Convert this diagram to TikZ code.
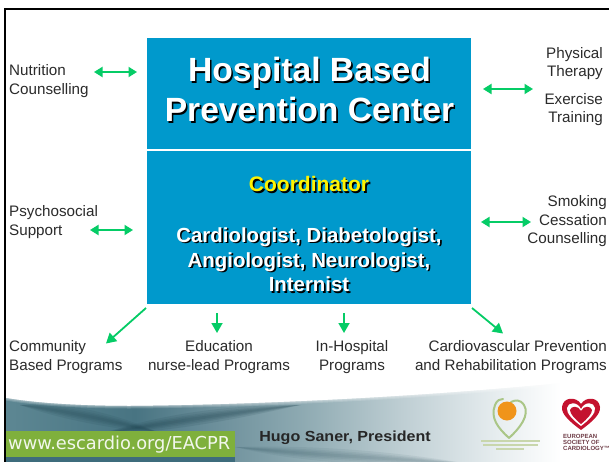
\documentclass[tikz,border=0pt]{standalone}
\usepackage{fontspec}
\setmainfont{Liberation Sans}
\newfontfamily\webfont{DejaVu Sans}
\usetikzlibrary{arrows.meta}
\definecolor{boxblue}{HTML}{0099CC}
\definecolor{arrowgreen}{HTML}{05CC66}
\definecolor{labelgray}{HTML}{2B2B2B}
\definecolor{webgreen}{HTML}{7FB03C}
\definecolor{escred}{HTML}{C4122F}
\definecolor{logoorange}{HTML}{F0941A}
\definecolor{fa}{RGB}{92,134,146}
\definecolor{fb}{RGB}{72,116,130}
\definecolor{fc}{RGB}{104,140,152}
\definecolor{fd}{RGB}{142,170,178}
\definecolor{fe}{RGB}{190,206,211}
\definecolor{ff}{RGB}{232,238,240}
\definecolor{streak}{RGB}{30,66,78}
\definecolor{footlow}{RGB}{62,108,124}
\definecolor{logogreen}{RGB}{170,198,135}
\definecolor{logotext}{RGB}{200,214,172}
\definecolor{esctext}{RGB}{110,60,70}
\pgfdeclarehorizontalshading{footshade}{100bp}{
 color(0bp)=(fa);
 color(25.5bp)=(fa);
 color(35.7bp)=(fb);
 color(41.4bp)=(fc);
 color(49.6bp)=(fd);
 color(57.8bp)=(fe);
 color(66bp)=(ff);
 color(71bp)=(white);
 color(100bp)=(white)}
\newcommand{\labfont}{\fontsize{15.2}{19}\selectfont\color{labelgray}}
% text with a hard black drop shadow
\newcommand{\shtext}[3]{\fontsize{#1}{#1}\selectfont\bfseries\leavevmode\rlap{\kern1.6pt\raisebox{-1.6pt}{\color{black}#3}}{\color{#2}#3}}
\tikzset{
 x=1pt,y=-1pt,
 bluebox/.style={fill=boxblue,draw=none},
 lableft/.style={anchor=base west,inner sep=0pt,font=\labfont},
 labright/.style={anchor=base east,inner sep=0pt,font=\labfont},
 labmid/.style={anchor=base,inner sep=0pt,font=\labfont},
 shline/.style={anchor=base,inner sep=0pt},
 both/.style={arrowgreen,line width=1.8pt,{Triangle[length=8.5pt,width=10pt]}-{Triangle[length=8.5pt,width=10pt]}},
 one/.style={arrowgreen,line width=1.8pt,-{Triangle[length=10pt,width=11pt]}},
}
\begin{document}
\begin{tikzpicture}
\useasboundingbox (0,0) rectangle (609,462);
\fill[white] (0,0) rectangle (609,462);
% footer
\path[shading=footshade] (6,398) .. controls (40,404) and (90,406) .. (130,406)
  .. controls (260,405) and (450,396) .. (609,378) -- (609,462) -- (6,462) -- cycle;
\begin{scope}
\clip (6,398) .. controls (40,404) and (90,406) .. (130,406)
  .. controls (260,405) and (450,396) .. (609,378) -- (609,462) -- (6,462) -- cycle;
\foreach \dd in {2,4,6,9}{
  \fill[streak,opacity=.11] (20,405) .. controls (60,410-\dd) and (110,420-\dd) .. (160,433)
     .. controls (110,420+\dd) and (60,410+\dd) .. (20,405) -- cycle;
  \fill[streak,opacity=.13] (100,434) .. controls (160,424-\dd) and (220,414-\dd) .. (300,405)
     .. controls (220,414+\dd) and (160,424+\dd) .. (100,434) -- cycle;
  \fill[streak,opacity=.07] (235,447) .. controls (300,454-\dd) and (380,458-\dd) .. (470,464)
     .. controls (380,458+\dd) and (300,454+\dd) .. (235,447) -- cycle;
}
% soft pale rim along the top of the band
\foreach \wd in {1.5,3,5}
  \draw[white,opacity=.16,line width=\wd pt] (6,398) .. controls (40,404) and (90,406) .. (130,406)
  .. controls (260,405) and (450,396) .. (609,378);
\end{scope}
\fill[footlow] (6,457) rectangle (235,462);
\fill[webgreen] (6,431) rectangle (235,457);
\node[anchor=base west,inner sep=0pt,text=white!90!webgreen,font=\webfont\fontsize{17.8}{18}\selectfont] (web) at (8,449.5) {www.escardio.org/EACPR};
\node[anchor=base,inner sep=0pt,xscale=1.1,transform shape,font=\fontsize{14.6}{16}\selectfont\bfseries,text=black!85] (hugo) at (345,441) {Hugo Saner, President};
% left logo
\draw[logogreen,line width=2pt,line cap=round] (509,438) .. controls (498,428) and (490,418) .. (495,405) .. controls (497,400) and (500,399) .. (503,399);
\draw[logogreen,line width=2pt,line cap=round] (509,438) .. controls (520,428) and (530,415) .. (524,405) .. controls (520,399) and (515,400) .. (511,402);
\fill[logoorange] (507,411) circle (9.5);
\foreach \yy/\xa/\xb in {441/481/540,445/483/538,449/496/524}
  \draw[logotext,line width=1.1pt] (\xa,\yy) -- (\xb,\yy);
% ESC logo
\fill[escred] (581,430) .. controls (570,422) and (561,414) .. (562,407) .. controls (563,397) and (576,396) .. (581,404) .. controls (586,396) and (599,397) .. (600,407) .. controls (601,414) and (592,422) .. (581,430) -- cycle;
\fill[white] (581,426) .. controls (573,420) and (566,413) .. (567,408) .. controls (568,402) and (577,401) .. (581,409) .. controls (585,401) and (594,402) .. (595,408) .. controls (596,413) and (589,420) .. (581,426) -- cycle;
\fill[escred] (581,424) .. controls (575,419) and (570,414) .. (570,410) .. controls (571,406) and (578,405) .. (581,411) .. controls (584,405) and (591,406) .. (592,410) .. controls (592,414) and (587,419) .. (581,424) -- cycle;
\foreach \nn/\yy/\ww in {e1/438/EUROPEAN,e2/444/SOCIETY OF,e3/450/CARDIOLOGY™}
  \node[anchor=base west,inner sep=0pt,font=\fontsize{6}{6}\selectfont\bfseries,text=esctext] (\nn) at (563,\yy) {\ww};
% frame
\fill[black] (3.5,8) rectangle (6,462);
\fill[black] (3.5,8) rectangle (609,10);
% boxes
\path[bluebox] (147,38) rectangle (471,149);
\path[bluebox] (147,151) rectangle (471,304);
\node[shline] (t1) at (309.5,82) {\shtext{33.6}{white}{Hospital Based}};
\node[shline] (t2) at (309.5,122) {\shtext{33.6}{white}{Prevention Center}};
\node[shline] (c0) at (309,192) {\shtext{21}{yellow}{Coordinator}};
\node[shline] (c1) at (309,242) {\shtext{20.4}{white}{Cardiologist, Diabetologist,}};
\node[shline] (c2) at (309,267) {\shtext{20.4}{white}{Angiologist, Neurologist,}};
\node[shline] (c3) at (309,291.5) {\shtext{20.4}{white}{Internist}};
% labels
\node[lableft] (nu1) at (9,76) {Nutrition};
\node[lableft] (nu2) at (9,95) {Counselling};
\node[lableft] (ps1) at (9,216) {Psychosocial};
\node[lableft] (ps2) at (9,235) {Support};
\node[labright] (ph1) at (603,59) {Physical};
\node[labright] (ph2) at (603,77) {Therapy};
\node[labright] (ex1) at (603,105) {Exercise};
\node[labright] (ex2) at (603,123) {Training};
\node[labright] (sm1) at (607,207) {Smoking};
\node[labright] (sm2) at (607,225) {Cessation};
\node[labright] (sm3) at (607,243.5) {Counselling};
\node[lableft] (co1) at (9,351.5) {Community};
\node[lableft] (co2) at (9,370) {Based Programs};
\node[labmid] (ed1) at (219,351.5) {Education};
\node[labmid] (ed2) at (219,370) {nurse-lead Programs};
\node[labmid] (ih1) at (352,351.5) {In-Hospital};
\node[labmid] (ih2) at (352,370) {Programs};
\node[labright] (cv1) at (607,351.5) {Cardiovascular Prevention};
\node[labright] (cv2) at (607,370) {and Rehabilitation Programs};
% connector ends
\coordinate (a1) at (94,72); \coordinate (a2) at (137,72);
\coordinate (b1) at (483,89); \coordinate (b2) at (533,89);
\coordinate (d1) at (90,230); \coordinate (d2) at (133,230);
\coordinate (e1a) at (481,222); \coordinate (e2a) at (531,222);
\coordinate (f1) at (146,308); \coordinate (f2) at (106,343.5);
\coordinate (g1) at (217,313); \coordinate (g2) at (217,333);
\coordinate (h1) at (344,313); \coordinate (h2) at (344,333);
\coordinate (i1) at (472,308); \coordinate (i2) at (503,333.5);
\draw[both] (a1) -- (a2);
\draw[both] (b1) -- (b2);
\draw[both] (d1) -- (d2);
\draw[both] (e1a) -- (e2a);
\draw[one] (f1) -- (f2);
\draw[one] (g1) -- (g2);
\draw[one] (h1) -- (h2);
\draw[one] (i1) -- (i2);
\end{tikzpicture}
\end{document}
